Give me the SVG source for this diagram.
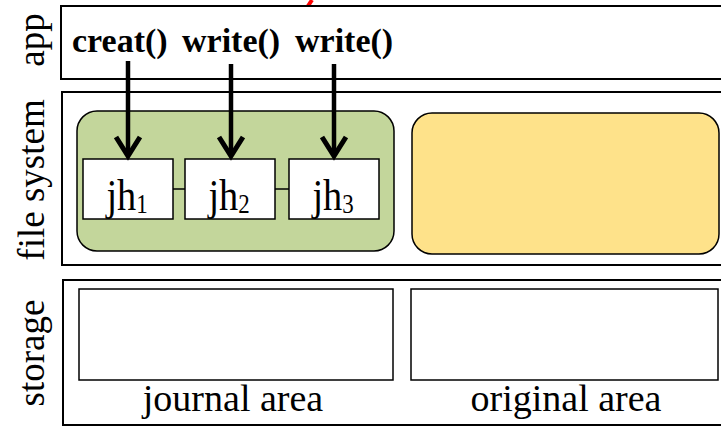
<svg xmlns="http://www.w3.org/2000/svg" width="721" height="426" viewBox="0 0 721 426">
<style>
.lbl{font-family:"Liberation Serif","Times New Roman",serif;font-size:37px;fill:#000}
.area-t{font-family:"Liberation Serif","Times New Roman",serif;font-size:38px;fill:#000}
.jht{font-family:"Liberation Serif","Times New Roman",serif;font-size:45px;fill:#000}
.call{font-family:"Liberation Serif","Times New Roman",serif;font-size:34px;font-weight:bold;fill:#000}
.sub{font-size:27px}
.layer{fill:#fff;stroke:#000;stroke-width:2}
.jh{fill:#fff;stroke:#000;stroke-width:1.5}
.area{fill:#fff;stroke:#000;stroke-width:1.5}
.arrow{stroke:#000;stroke-width:4.5;fill:none}
.head{stroke:#000;stroke-width:5;fill:none;stroke-linecap:butt;stroke-linejoin:miter}
.link{stroke:#000;stroke-width:1.5}
</style>
<rect width="721" height="426" fill="#fff"/>
<line x1="312" y1="0" x2="306" y2="9" stroke="#f00" stroke-width="4"/>
<g id="app">
  <rect class="layer" x="61" y="6" width="670" height="73"/>
  <text class="lbl" transform="translate(44,40) rotate(-90)" text-anchor="middle">app</text>
  <text class="call" x="72" y="52">creat()</text>
  <text class="call" x="182" y="52">write()</text>
  <text class="call" x="295" y="52">write()</text>
</g>
<g id="filesystem">
  <rect class="layer" x="62" y="92" width="670" height="173"/>
  <text class="lbl" transform="translate(44,180) rotate(-90)" text-anchor="middle">file system</text>
</g>
<g id="journal-cache">
  <rect x="77" y="111" width="317" height="140" rx="20" ry="20" fill="#c3d69b" stroke="#000" stroke-width="1.5"/>
</g>
<g id="original-cache">
  <rect x="412" y="113" width="307" height="141" rx="20" ry="20" fill="#fee28a" stroke="#000" stroke-width="1.5"/>
</g>
<g id="jh1">
  <rect class="jh" x="83" y="159" width="90" height="60"/>
  <text class="jht" transform="translate(127,210) scale(0.85,1)" text-anchor="middle">jh<tspan class="sub" dy="3">1</tspan></text>
</g>
<g id="jh2">
  <rect class="jh" x="185" y="159" width="90" height="60"/>
  <text class="jht" transform="translate(229,210) scale(0.85,1)" text-anchor="middle">jh<tspan class="sub" dy="3">2</tspan></text>
</g>
<g id="jh3">
  <rect class="jh" x="289" y="159" width="90" height="60"/>
  <text class="jht" transform="translate(333,210) scale(0.85,1)" text-anchor="middle">jh<tspan class="sub" dy="3">3</tspan></text>
</g>
<g id="storage">
  <rect class="layer" x="63" y="280" width="670" height="145"/>
  <text class="lbl" transform="translate(44,353) rotate(-90)" text-anchor="middle">storage</text>
</g>
<g id="journal-area">
  <rect class="area" x="79" y="289" width="314" height="91"/>
  <text class="area-t" x="233" y="411" text-anchor="middle">journal area</text>
</g>
<g id="original-area">
  <rect class="area" x="411" y="289" width="307" height="91"/>
  <text class="area-t" x="566" y="411" text-anchor="middle">original area</text>
</g>
<g id="connectors">
  <line class="link" x1="173" y1="189" x2="185" y2="189"/>
  <line class="link" x1="275" y1="189" x2="289" y2="189"/>
  <line class="arrow" x1="128" y1="61" x2="128" y2="155"/>
  <polyline class="head" points="116,137 128,156 140,137"/>
  <line class="arrow" x1="231" y1="64" x2="231" y2="155"/>
  <polyline class="head" points="219,137 231,156 243,137"/>
  <line class="arrow" x1="334" y1="64" x2="334" y2="155"/>
  <polyline class="head" points="322,137 334,156 346,137"/>
</g>
</svg>
